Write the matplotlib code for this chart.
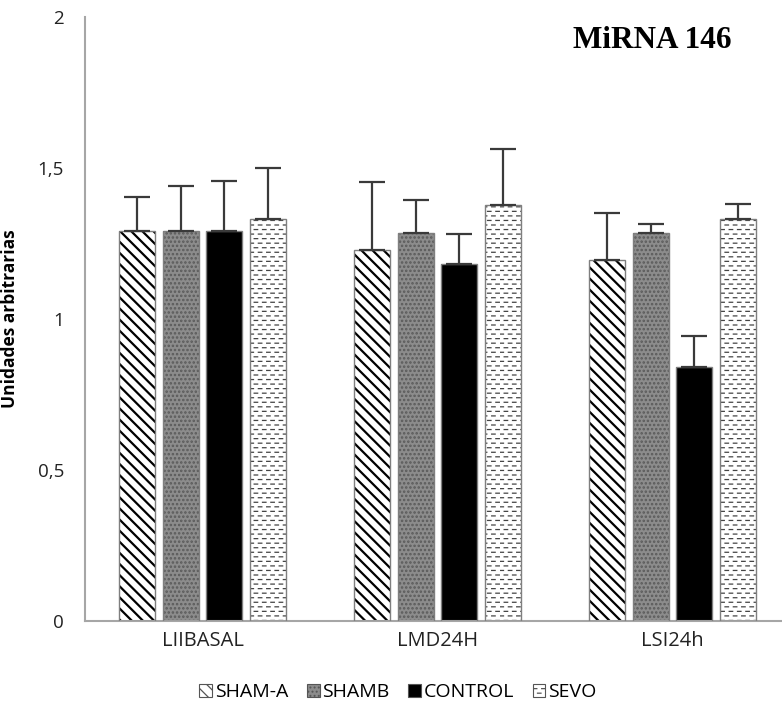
import numpy as np
import matplotlib
matplotlib.use("Agg")
import matplotlib.pyplot as plt
from matplotlib import hatch as mhatch
from matplotlib.path import Path

# ================================
# DATA
# ================================
groups = ["LIIBASAL", "LMD24H", "LSI24h"]
series_names = ["SHAM-A", "SHAMB", "CONTROL", "SEVO"]

sham_a = [1.29, 1.23, 1.195]
sham_a_err = [0.115, 0.225, 0.157]
shamb = [1.29, 1.286, 1.286]
shamb_err = [0.15, 0.108, 0.027]
control = [1.29, 1.182, 0.842]
control_err = [0.167, 0.098, 0.102]
sevo = [1.331, 1.377, 1.331]
sevo_err = [0.17, 0.185, 0.05]

values = [sham_a, shamb, control, sevo]
errors = [sham_a_err, shamb_err, control_err, sevo_err]


# ================================
# DASHED HATCH (Excel style short dashes, used for "-")
# ================================
class DashHatch(mhatch.HatchPatternBase):
    def __init__(self, hatch, density):
        self.num_rows = 22 if "-" in hatch else 0
        self.per_row = 12
        self.num_vertices = self.num_rows * self.per_row * 2

    def set_vertices_and_codes(self, vertices, codes):
        k = 0
        for r in range(self.num_rows):
            y = (r + 0.5) / self.num_rows
            off = 0.0 if r % 2 == 0 else 0.5 / self.per_row
            for d in range(self.per_row):
                x0 = d / self.per_row + off
                vertices[k] = (x0, y)
                vertices[k + 1] = (x0 + 0.035, y)
                codes[k] = Path.MOVETO
                codes[k + 1] = Path.LINETO
                k += 2


mhatch._hatch_types[0] = DashHatch

# ================================
# STYLE
# ================================
face = ["white", "#8c8c8c", "black", "white"]
hatch = ["\\\\\\", "....", None, "-"]
hatch_col = ["black", "#5a5a5a", "black", "#444444"]
hatch_lw = [1.6, 1.2, 1.0, 0.9]
axis_grey = "#a6a6a6"
tick_font = "Open Sans"

fig = plt.figure(figsize=(7.82, 7.19), dpi=100)
ax = fig.add_axes([85 / 782, 98 / 719, 705 / 782, 604 / 719])

x = np.arange(len(groups))
step = 0.187
width = 0.153

for i in range(4):
    pos = x + (i - 1.5) * step
    plt.rcParams["hatch.linewidth"] = hatch_lw[i]
    # hatch layer
    ax.bar(pos, values[i], width, color=face[i], hatch=hatch[i],
           edgecolor=hatch_col[i], linewidth=0, zorder=2)
    # outline + error bars
    ax.bar(pos, values[i], width, color="none", edgecolor="#7f7f7f",
           linewidth=1.0, zorder=3,
           yerr=[np.zeros(len(groups)), errors[i]],
           error_kw=dict(ecolor="#3a3a3a", elinewidth=1.6, capsize=9.5,
                         capthick=1.6, zorder=4))

ax.set_xlim(-0.5, 2.5)
ax.set_ylim(0, 2)
ax.set_yticks([0, 0.5, 1, 1.5, 2])
ax.set_yticklabels(["0", "0,5", "1", "1,5", "2"], fontsize=13.5, family=tick_font)
ax.set_xticks(x)
ax.set_xticklabels(groups, fontsize=14.5, family=tick_font)
ax.tick_params(axis="both", length=0, colors="#222222")
ax.tick_params(axis="y", pad=15)
ax.tick_params(axis="x", pad=7)

for s in ["top", "right"]:
    ax.spines[s].set_visible(False)
for s in ["left", "bottom"]:
    ax.spines[s].set_color(axis_grey)
    ax.spines[s].set_linewidth(1.5)

ax.set_ylabel("Unidades arbitrarias", fontsize=12.5, fontweight="bold",
              family=tick_font)
ax.yaxis.set_label_coords(-(85 - 19.5) / 705, 0.5)

fig.text(652 / 782, 1 - 40 / 719, "MiRNA 146", family="Liberation Serif",
         fontweight="bold", fontsize=22.5, ha="center", va="center")

# ================================
# LEGEND
# ================================
handles = []
for i in range(4):
    plt.rcParams["hatch.linewidth"] = hatch_lw[i]
    h = plt.Rectangle((0, 0), 1, 1, facecolor=face[i], hatch=hatch[i],
                      edgecolor="#555555", linewidth=0.8)
    handles.append(h)
fig.legend(handles, series_names, loc="center", ncol=4,
           bbox_to_anchor=(398 / 782, 1 - 692 / 719), frameon=False,
           handlelength=0.65, handleheight=0.65, handletextpad=0.15,
           columnspacing=0.95, prop={"family": tick_font, "size": 14})

fig.savefig("out.png", dpi=100)
